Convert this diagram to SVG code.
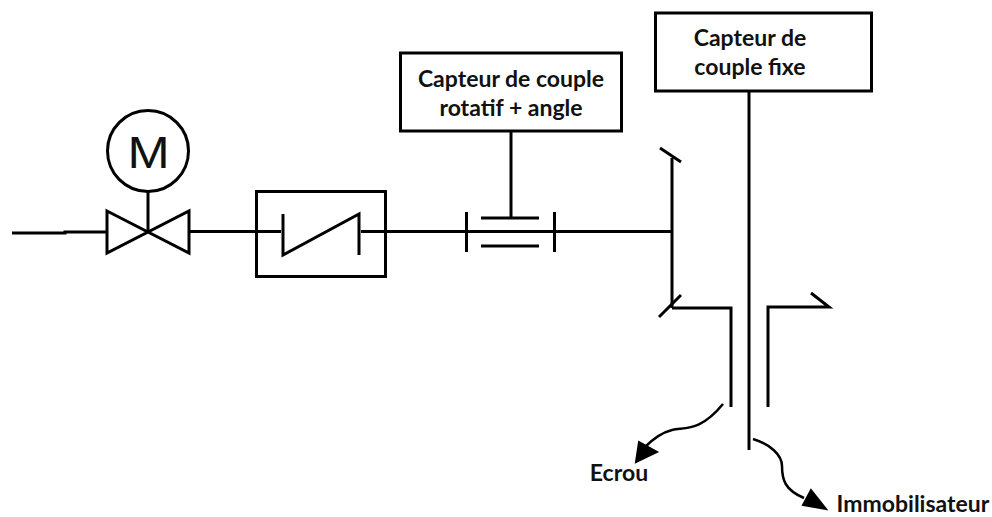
<svg xmlns="http://www.w3.org/2000/svg" width="992" height="517" viewBox="0 0 992 517">
<style>
.l{fill:none;stroke:#000;stroke-width:3;stroke-linecap:butt;stroke-linejoin:miter}
.c{fill:none;stroke:#000;stroke-width:2.500}
.h{fill:#000;stroke:#000;stroke-width:2}
.b{fill:#fff;stroke:#000;stroke-width:3}
.t{font-family:Lato,"Open Sans",sans-serif;font-weight:700;font-size:23px;fill:#111;text-anchor:middle}
</style>
<rect width="992" height="517" fill="#fff"/>
<g id="connectors">
<path class="l" d="M12 233H65V232H107"/>
<path class="l" d="M148 190V231"/>
<path class="l" d="M189 231.500H256"/>
<path class="l" d="M385 231.500H671"/>
<path class="l" d="M511 131V217"/>
<path class="l" d="M672 158V308"/>
<path class="l" d="M749 91V450"/>
<path class="c" d="M723 404C700 432 685 427 672 430C660 433 652 440 645 447"/>
<path class="h" d="M636 462L639 442L657 452Z"/>
<path class="c" d="M753 439C770 444 782 455 782 466C782 480 785 490 804 498"/>
<path class="h" d="M826 509L803 505L811 490Z"/>
</g>
<g id="motor">
<circle class="b" cx="148" cy="151" r="40.500"/>
<text transform="translate(148.500 168) scale(1.15 1)" font-family="'Liberation Sans',sans-serif" font-size="44" text-anchor="middle" fill="#111">M</text>
</g>
<g id="valve">
<path class="l" d="M107 211L189 253V211L107 253Z"/>
</g>
<g id="clutch">
<rect class="l" x="256.500" y="191.500" width="129" height="85"/>
<path class="l" d="M283 214V255L359 214V255"/>
<path class="l" d="M256 231.500H281M361 231.500H385"/>
</g>
<g id="rotary-sensor">
<rect class="b" x="400.500" y="53" width="221" height="78"/>
<text class="t" x="511" y="87">Capteur de couple</text>
<text class="t" x="511" y="116">rotatif + angle</text>
</g>
<g id="coupling">
<path class="l" d="M466.500 212V252M554.500 212V252M481 218H539M481 246H539"/>
</g>
<g id="gear">
<path class="l" d="M660 148L681 162"/>
<path class="l" d="M659 317L681 295"/>
<path class="l" d="M672 308H731V407"/>
<path class="l" d="M768 407V307H829L811 293"/>
</g>
<g id="fixed-sensor">
<rect class="b" x="655.500" y="13" width="216" height="78"/>
<text class="t" x="750" y="46">Capteur de</text>
<text class="t" x="750" y="75">couple fixe</text>
</g>
<g id="ecrou"><text class="t" x="619" y="481">Ecrou</text></g>
<g id="immobilisateur"><text class="t" x="913" y="512">Immobilisateur</text></g>
</svg>
